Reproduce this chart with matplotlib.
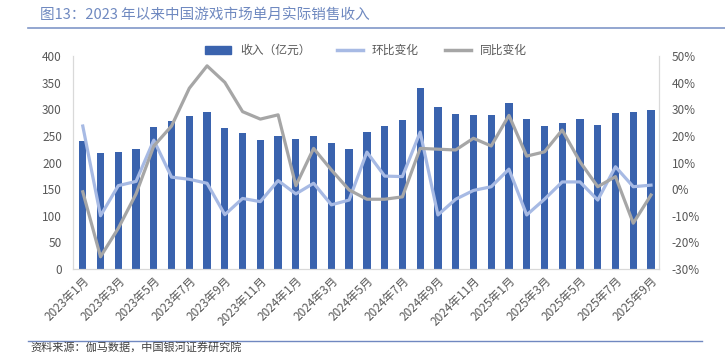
import numpy as np
import matplotlib.pyplot as plt
from matplotlib.lines import Line2D
from matplotlib.ticker import FuncFormatter

plt.rcParams['font.family'] = ['Noto Sans CJK SC', 'DejaVu Sans']

months = [f'{y}年{m}月' for y in (2023, 2024, 2025) for m in range(1, 13)][:33]

revenue = [241, 217, 220, 226, 267, 278, 287, 294, 265, 255, 243, 250,
           245, 250, 236, 226, 257, 268, 280, 339, 305, 292, 289, 290,
           312, 281, 269, 275, 282, 271, 293, 294, 299]
mom = [23.7, -10.0, 1.3, 2.9, 18.4, 4.5, 3.7, 2.2, -9.6, -3.5, -4.7, 3.2,
       -1.8, 2.2, -5.9, -4.1, 13.9, 4.9, 4.7, 21.4, -9.7, -3.8, -0.5, 0.9,
       7.5, -9.7, -3.8, 2.7, 2.7, -4.1, 8.4, 0.9, 1.5]
yoy = [-1.0, -25.4, -14.7, -1.8, 16.2, 23.7, 37.9, 46.3, 40.1, 29.1, 26.3, 27.9,
       1.3, 15.3, 7.2, -0.3, -3.8, -3.8, -2.9, 15.3, 15.0, 14.7, 19.1, 16.2,
       27.7, 12.4, 14.0, 22.2, 10.3, 0.9, 4.7, -12.8, -2.2]

bar_color = '#3A63AE'
mom_color = '#A7BAE4'
yoy_color = '#A6A6A6'
tick_color = '#595959'
axis_color = '#D9D9D9'

fig = plt.figure(figsize=(7.25, 3.54), dpi=100)
ax = fig.add_axes([73 / 725, 1 - 269 / 354, 586 / 725, 213 / 354])
ax2 = ax.twinx()

x = np.arange(len(months))
ax.bar(x, revenue, width=0.41, color=bar_color, zorder=2)
ax2.plot(x, mom, color=mom_color, lw=2.3, zorder=3)
ax2.plot(x, yoy, color=yoy_color, lw=2.3, zorder=3)

ax.set_xlim(-0.55, 32.45)
ax.set_ylim(0, 400)
ax.set_yticks(range(0, 401, 50))
ax2.set_ylim(-30, 50)
ax2.set_yticks(range(-30, 51, 10))
ax2.yaxis.set_major_formatter(FuncFormatter(lambda v, p: f'{v:.0f}%'))

ax.set_xticks(x[::2])
ax.set_xticklabels(months[::2], rotation=45, ha='right', rotation_mode='anchor',
                   fontsize=8.5, color='#404040')

for a in (ax, ax2):
    a.spines['top'].set_visible(False)
    for s in ('left', 'right', 'bottom'):
        a.spines[s].set_color(axis_color)
    a.tick_params(length=0, labelsize=8.5, labelcolor=tick_color)
ax.tick_params(axis='x', pad=4)
ax.tick_params(axis='y', pad=8)
ax2.tick_params(axis='y', pad=9)

handles = [plt.Rectangle((0, 0), 1, 1, color=bar_color),
           Line2D([0], [0], color=mom_color, lw=2.5),
           Line2D([0], [0], color=yoy_color, lw=2.5)]
ax2.legend(handles, ['收入（亿元）', '环比变化', '同比变化'], loc='center',
           bbox_to_anchor=(0.5, 1.025), ncol=3, frameon=False, fontsize=8.5,
           handlelength=2.2, handleheight=0.6, columnspacing=2.2,
           labelcolor=tick_color)

fig.text(40 / 725, 1 - 15 / 354, '图13：2023 年以来中国游戏市场单月实际销售收入',
         fontsize=10.5, color='#6F89C0', va='center', ha='left')
fig.add_artist(Line2D([28 / 725, 1], [1 - 27.7 / 354] * 2, color='#8097C8', lw=1.2))
fig.add_artist(Line2D([28 / 725, 702 / 725], [1 - 341 / 354] * 2, color='#7088C0', lw=1.0))
fig.text(30 / 725, 1 / 354, '资料来源：伽马数据，中国银河证券研究院',
         fontsize=8, color='#404040', va='bottom', ha='left')

fig.savefig('out.png', dpi=100)
